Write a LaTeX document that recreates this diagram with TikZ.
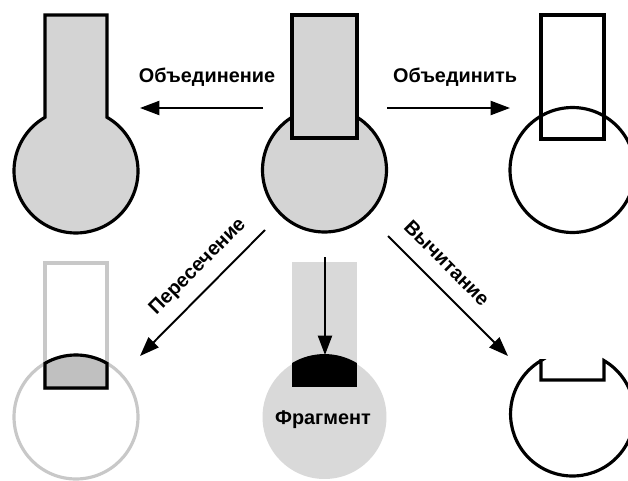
\documentclass[tikz,border=0pt]{standalone}
\usepackage{fontspec}
\setmainfont{Liberation Sans}
\usetikzlibrary{arrows.meta}
\definecolor{shapegray}{RGB}{212,212,212}
\definecolor{lightfill}{RGB}{217,217,217}
\definecolor{ghost}{RGB}{200,200,200}
\definecolor{isectfill}{RGB}{192,192,192}
\tikzset{
  outline/.style={draw=black, line width=1.8pt, line join=miter},
  ghostline/.style={draw=ghost, line width=1.8pt},
  oparrow/.style={line width=1.1pt, -{Triangle[length=11pt,width=8pt]}},
  oplabel/.style={font=\bfseries\fontsize{11.3}{13}\selectfont, inner sep=0pt}
}
\begin{document}
\begin{tikzpicture}[x=0.02cm,y=0.02cm]
\useasboundingbox (0,0) rectangle (628,-480);
\clip (0,0) rectangle (628,-480);
\fill[white] (0,0) rectangle (628,-480);

% top-left: union result
\path[outline, fill=shapegray] (45,-15) -- (107,-15) -- (107,-117.3)
  arc[start angle=60, end angle=-240, radius=1.24cm] -- cycle;

% top-center: source shapes
\path[outline, fill=shapegray] (324.5,-170) circle[radius=1.24cm];
\path[outline, fill=shapegray] (292,-15) rectangle (357,-138);

% top-right: combined (not merged)
\path[outline] (572.5,-170) circle[radius=1.25cm];
\path[outline] (541,-15) rectangle (604,-139);

% bottom-left: intersection
\path[ghostline] (45,-263) rectangle (107,-388);
\path[ghostline] (76,-417) circle[radius=1.24cm];
\path[outline, fill=isectfill] (45,-388) -- (45,-363.3)
  arc[start angle=120, end angle=60, radius=1.24cm] -- (107,-388) -- cycle;

% bottom-center: fragment
\fill[lightfill] (292,-262) rectangle (357,-390);
\fill[lightfill] (324.5,-417) circle[radius=1.24cm];
\path[draw=black, line width=1pt, fill=black] (293,-386) -- (293,-363.5)
  arc[start angle=120.5, end angle=59.5, radius=1.24cm] -- (356,-386) -- cycle;
\node[oplabel] (frag) at (323,-420) {Фрагмент};

% bottom-right: subtraction
\path[outline] (541,-360.6) -- (541,-380) -- (604,-380) -- (604,-360.6)
  arc[start angle=59.5, end angle=-239.5, radius=1.24cm] -- cycle;

% connector end points
\coordinate (uA) at (263,-108);
\coordinate (uB) at (140,-108);
\coordinate (cA) at (387,-108);
\coordinate (cB) at (510,-108);
\coordinate (iA) at (265,-230);
\coordinate (iB) at (140,-356);
\coordinate (sA) at (388,-236);
\coordinate (sB) at (508,-356);
\coordinate (fA) at (325,-257);
\coordinate (fB) at (325,-355);

\draw[oparrow] (uA) -- (uB);
\draw[oparrow] (cA) -- (cB);
\draw[oparrow] (iA) -- (iB);
\draw[oparrow] (sA) -- (sB);
\draw[oparrow] (fA) -- (fB);

% labels
\node[oplabel] (lunion) at (207,-77) {Объединение};
\node[oplabel] (lcomb) at (455,-77) {Объединить};
\node[oplabel, rotate=45] (linter) at (198,-267) {Пересечение};
\node[oplabel, rotate=-45] (lsub) at (447,-263) {Вычитание};
\end{tikzpicture}
\end{document}
